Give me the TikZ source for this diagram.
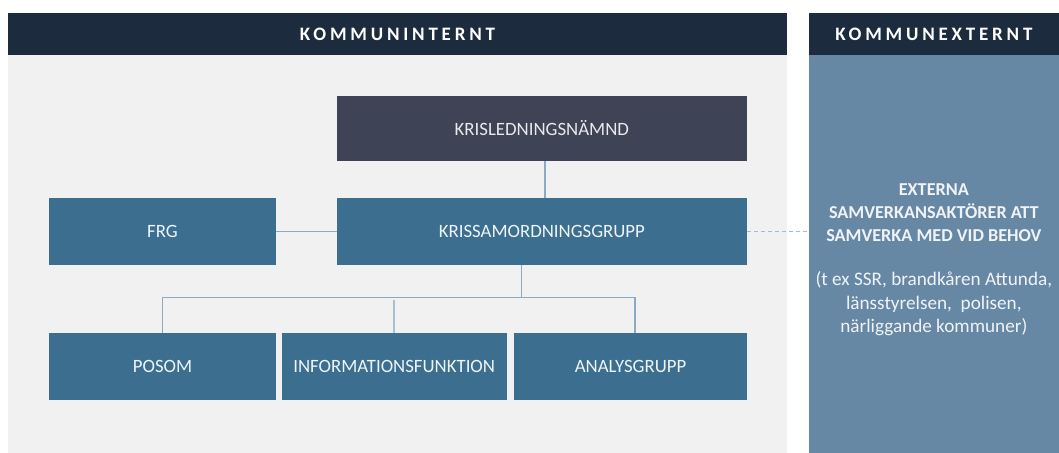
\documentclass[tikz,border=0pt]{standalone}
\usepackage{fontspec}
\setmainfont{Carlito}
\newfontfamily\headfont[LetterSpace=20]{Carlito}
\usepackage{tikz}
\usetikzlibrary{calc}
\definecolor{navy}{HTML}{1D2B3E}
\definecolor{panelgray}{HTML}{F1F1F1}
\definecolor{slate}{HTML}{3E4356}
\definecolor{steel}{HTML}{3B6E8F}
\definecolor{extblue}{HTML}{6688A5}
\definecolor{wire}{HTML}{8CAAC4}
\tikzstyle{head}=[rectangle, inner sep=0pt, fill=navy, text=white, font=\headfont\bfseries\fontsize{9.5}{11}\selectfont, minimum height=21.15pt]
\tikzstyle{panel}=[rectangle, inner sep=0pt, minimum height=199pt]
\tikzstyle{box}=[rectangle, inner sep=0pt, fill=steel, text=white!92!steel, font=\fontsize{9.4}{12}\selectfont, minimum height=33.5pt]
\tikzstyle{top}=[box, fill=slate, text=white!88!slate, minimum height=32.3pt]
\tikzstyle{note}=[inner sep=0pt, text=white!90!extblue, align=center, font=\fontsize{9.6}{11.7}\selectfont]
\tikzstyle{link}=[-, draw=wire, line width=0.75pt]
\tikzstyle{dlink}=[-, draw=wire!80!white, line width=0.75pt, dash pattern=on 2pt off 1.5pt]

\begin{document}
\begin{tikzpicture}[x=0.5pt, y=-0.5pt]
	\useasboundingbox (0,0) rectangle (1059,453);
	
	%The headers
	\draw (397.5,33.85) node[head, minimum width=389.5pt] (intern) {KOMMUNINTERNT};
	\draw (933.85,33.85) node[head, minimum width=125.15pt] (extern) {KOMMUNEXTERNT};
	
	%The panels
	\draw (397.5,254) node[panel, fill=panelgray, minimum width=389.5pt] (inside) {};
	\draw (933.85,254) node[panel, fill=extblue, minimum width=125.15pt] (outside) {};
	\draw (933.85,259.5) node[note] (partners) {\textbf{\fontsize{9.1}{11.7}\selectfont EXTERNA}\\ \textbf{\fontsize{9.1}{11.7}\selectfont SAMVERKANSAKTÖRER ATT}\\ \textbf{\fontsize{9.1}{11.7}\selectfont SAMVERKA MED VID BEHOV}\\[10.2pt] (t ex SSR, brandkåren Attunda,\\ länsstyrelsen,\ \ polisen,\\ närliggande kommuner)};
	
	%The boxes
	\draw (541.85,128.35) node[top, minimum width=204.85pt] (namnd) {KRISLEDNINGSNÄMND};
	\draw (541.85,231.5) node[box, minimum width=204.85pt] (kriss) {KRISSAMORDNINGSGRUPP};
	\draw (162.5,231.5) node[box, minimum width=113.5pt] (frg) {FRG};
	\draw (162.5,366.8) node[box, minimum width=113.5pt] (posom) {POSOM};
	\draw (394.2,366.8) node[box, minimum width=112.5pt] (info) {INFORMATIONSFUNKTION};
	\draw (630.5,366.8) node[box, minimum width=116.2pt] (analys) {ANALYSGRUPP};
	
	%The connectors
	\coordinate (hub) at (521.7,297.3);
	\draw[link] ([xshift=1.6pt]namnd.south) -- ([xshift=1.6pt]kriss.north);
	\draw[link] (frg) -- (kriss);
	\draw[dlink] (kriss.east) -- (kriss.east -| outside.west);
	\draw[link] (kriss.south -| hub) -- (hub);
	\draw[link] (posom.north) -- (posom.north |- hub) -- ($(analys.north |- hub)+(4.5,0)$) -- ([xshift=2.25pt]analys.north);
	\draw[link, draw=wire!75!white] ([yshift=-1.4pt]info.north |- hub) -- (info.north);
\end{tikzpicture}
\end{document}
